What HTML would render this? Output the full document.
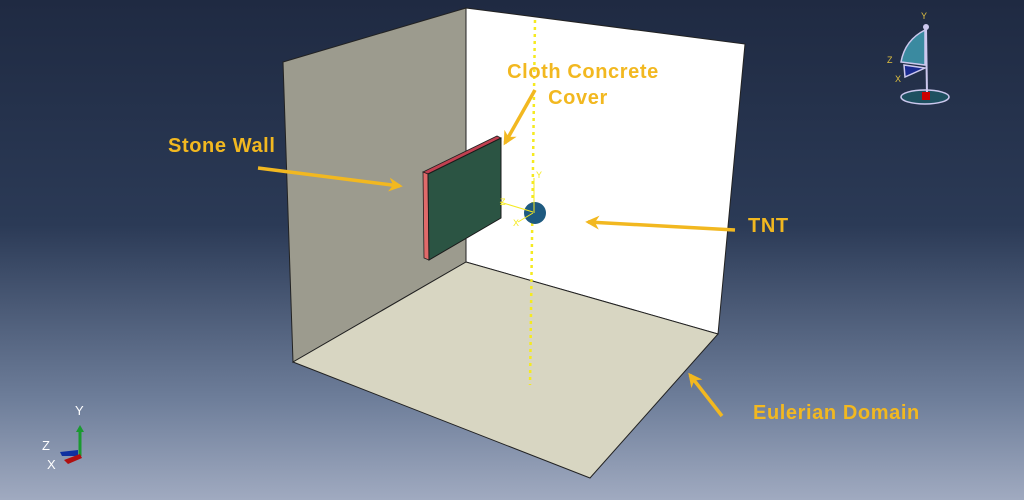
<!DOCTYPE html>
<html><head><style>
body{margin:0;width:1024px;height:500px;overflow:hidden;background:linear-gradient(#1f2a42 0%,#2b3a56 45%,#6e7e9a 80%,#a0aac0 100%);}
svg{position:absolute;left:0;top:0}
text{font-family:"Liberation Sans",sans-serif;}
</style></head><body>
<svg width="1024" height="500" viewBox="0 0 1024 500">
<defs>
<marker id="ah2" viewBox="0 0 10 10" markerWidth="16" markerHeight="14" refX="8" refY="5" orient="auto" markerUnits="userSpaceOnUse"><path d="M0,0 L10,5 L0,10 L3,5Z" fill="#f2b820"/></marker></defs>
<polygon points="283,62 466,8 466,262 293,362" fill="#9c9b8e" stroke="#222" stroke-width="1"/>
<polygon points="466,8 745,44 718,334 466,262" fill="#fff" stroke="#222" stroke-width="1"/>
<polygon points="293,362 466,262 718,334 590,478" fill="#d8d6c2" stroke="#222" stroke-width="1"/>
<line x1="535" y1="20" x2="530" y2="385" stroke="#f5ea20" stroke-width="2.5" stroke-dasharray="3,4"/>
<polygon points="423,172 497,136 501,138 428,174" fill="#c04050" stroke="#222" stroke-width="0.8"/>
<polygon points="423,172 428,174 429,260 424,258" fill="#e06a6a" stroke="#222" stroke-width="0.8"/>
<polygon points="428,174 501,138 501,218 429,260" fill="#2b5443" stroke="#1a1a1a" stroke-width="1"/>
<circle cx="535" cy="213" r="11" fill="#1e5a80"/>
<line x1="500" y1="202" x2="533" y2="212" stroke="#f5ea20" stroke-width="1"/>
<line x1="533" y1="213" x2="518" y2="222" stroke="#f5ea20" stroke-width="1"/>
<line x1="534" y1="213" x2="534" y2="178" stroke="#f5ea20" stroke-width="1"/>
<text x="536" y="178" font-size="9" fill="#f5ea20">Y</text>
<text x="500" y="205" font-size="9" fill="#f5ea20">Z</text>
<text x="513" y="226" font-size="9" fill="#f5ea20">X</text>
<g stroke="#f2b820" stroke-width="3.5" fill="none">
<line x1="258" y1="168" x2="400" y2="186" marker-end="url(#ah2)"/>
<line x1="535" y1="90" x2="505" y2="143" marker-end="url(#ah2)"/>
<line x1="735" y1="230" x2="588" y2="222" marker-end="url(#ah2)"/>
<line x1="722" y1="416" x2="690" y2="375" marker-end="url(#ah2)"/>
</g>
<g fill="#f2b820" font-weight="bold" font-size="20" letter-spacing="0.6">
<text x="168" y="152">Stone Wall</text>
<text x="583" y="78" text-anchor="middle">Cloth Concrete</text>
<text x="578" y="104" text-anchor="middle">Cover</text>
<text x="748" y="232">TNT</text>
<text x="753" y="419">Eulerian Domain</text>
</g>
<text x="921" y="19" font-size="9" fill="#e0c040">Y</text>
<text x="887" y="63" font-size="9" fill="#e0c040">Z</text>
<text x="895" y="82" font-size="9" fill="#e0c040">X</text>
<ellipse cx="925" cy="97" rx="24" ry="7" fill="#1e5060" stroke="#ccc8ee" stroke-width="1.5"/>
<path d="M901,62 Q905,40 925,30 L925,65 Z" fill="#3a8aa0" stroke="#ccc8ee" stroke-width="1.5"/>
<path d="M904,65 L925,68 L905,77 Z" fill="#1a2a90" stroke="#ccc8ee" stroke-width="1.5"/>
<line x1="926" y1="28" x2="927" y2="95" stroke="#ccc8ee" stroke-width="2"/>
<circle cx="926" cy="27" r="3" fill="#ccc8ee"/>
<rect x="922" y="92" width="8" height="8" fill="#c00"/>
<text x="75" y="415" font-size="13" fill="#fff">Y</text>
<text x="42" y="450" font-size="13" fill="#fff">Z</text>
<text x="47" y="469" font-size="13" fill="#fff">X</text>
<line x1="80" y1="456" x2="80" y2="430" stroke="#1a9a30" stroke-width="3"/>
<polygon points="76,432 84,432 80,425" fill="#1a9a30"/>
<polygon points="60,452 78,450 78,456 62,456" fill="#1030a0"/>
<polygon points="64,460 80,454 82,458 68,464" fill="#b01010"/>
</svg>
</body></html>
